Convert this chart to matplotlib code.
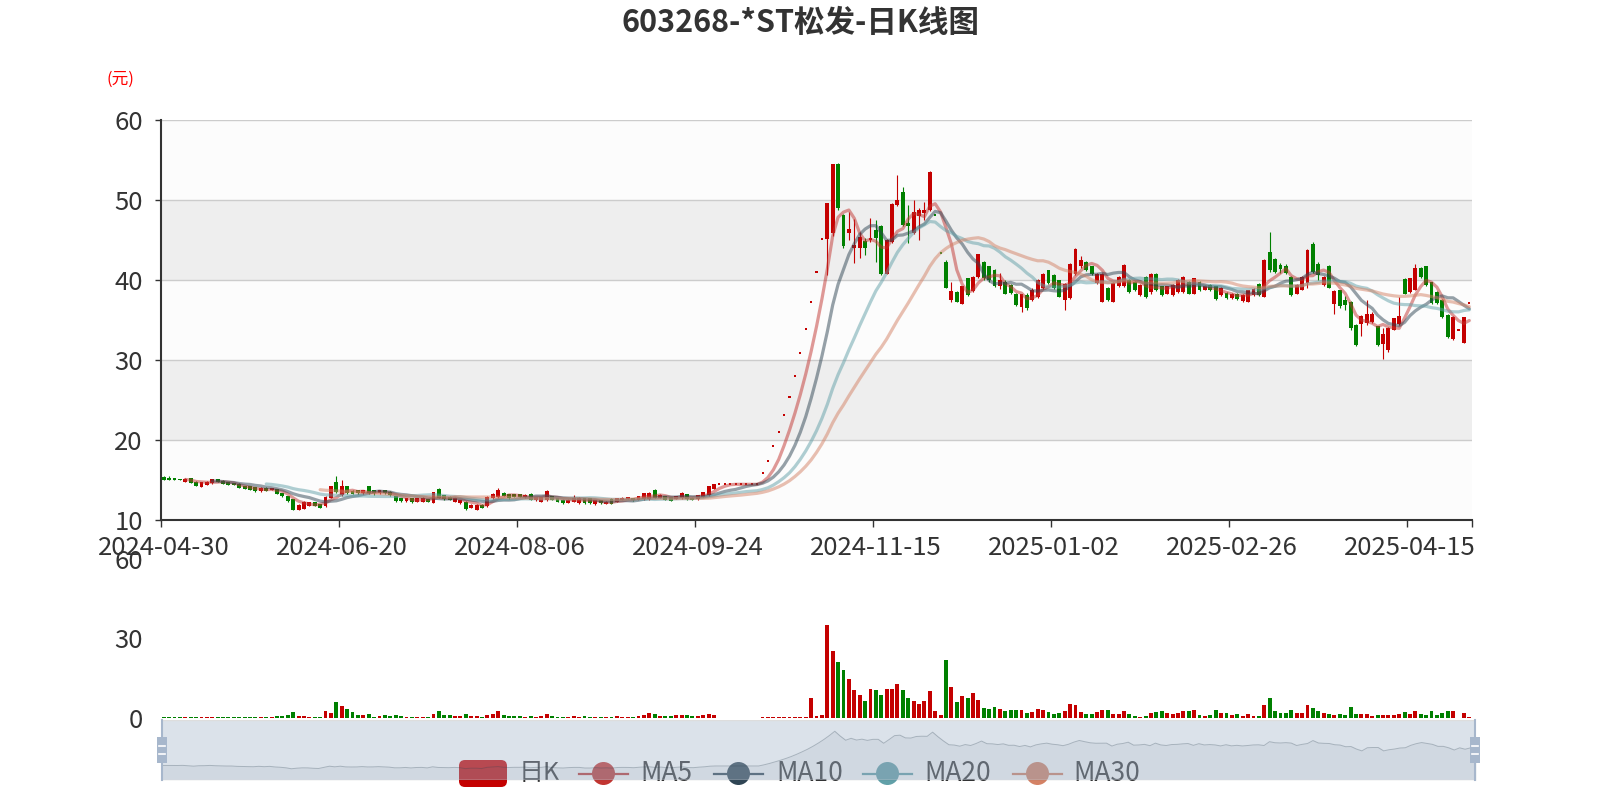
import matplotlib
matplotlib.use('Agg')
import matplotlib.pyplot as plt
import numpy as np
from matplotlib.patches import Rectangle, FancyBboxPatch, Circle

plt.rcParams['font.family'] = ['Noto Sans CJK SC', 'DejaVu Sans']

title = '603268-*ST松发-日K线图'
unit_name = '(元)'
tick_index = [0, 33, 66, 99, 132, 165, 198, 231]
tick_labels = ['2024-04-30', '2024-06-20', '2024-08-06', '2024-09-24',
               '2024-11-15', '2025-01-02', '2025-02-26', '2025-04-15']
legend_names = ['日K', 'MA5', 'MA10', 'MA20', 'MA30']
ma_days = [5, 10, 20, 30]

opens = [
    15.40, 15.20, 15.15, 15.10, 14.80, 15.20, 14.80, 14.15, 14.40, 14.60,
    15.10, 14.90, 14.75, 14.60, 14.55, 14.25, 14.20, 14.10, 13.60, 14.05,
    13.75, 13.85, 13.35, 12.95, 12.60, 11.30, 11.40, 11.75, 12.20, 11.95,
    11.70, 12.75, 14.80, 13.10, 14.20, 13.65, 13.70, 13.35, 14.20, 13.70,
    13.35, 13.70, 13.55, 12.95, 12.75, 12.35, 12.70, 12.30, 12.25, 12.60,
    12.15, 13.90, 13.10, 12.90, 12.30, 12.10, 12.30, 11.50, 11.30, 11.90,
    11.70, 12.70, 12.85, 13.40, 13.25, 13.20, 13.20, 12.85, 13.30, 12.45,
    12.30, 12.45, 13.00, 12.70, 12.55, 12.15, 12.30, 12.10, 12.70, 12.70,
    11.95, 12.50, 12.00, 12.65, 12.25, 12.50, 12.70, 12.75, 12.50, 12.60,
    12.60, 13.75, 12.75, 13.00, 12.85, 12.65, 12.70, 13.25, 12.80, 12.60,
    12.90, 13.10, 13.90, 14.46, 14.46, 14.46, 14.46, 14.46, 14.46, 14.46,
    14.46, 15.83, 17.40, 19.20, 21.04, 23.13, 25.40, 28.00, 30.83, 33.83,
    37.25, 41.00, 45.08, 45.08, 45.90, 54.50, 48.10, 45.90, 44.00, 44.00,
    44.90, 45.00, 46.25, 46.75, 40.80, 44.80, 49.40, 51.00, 47.10, 45.90,
    48.00, 48.40, 48.70, 48.15, 43.34, 42.30, 37.50, 38.50, 37.00, 40.20,
    38.60, 40.40, 42.30, 41.70, 41.25, 39.20, 39.80, 39.40, 38.30, 36.60,
    38.10, 37.50, 37.90, 39.00, 41.20, 40.60, 40.00, 37.50, 37.70, 40.80,
    41.70, 42.30, 41.70, 39.60, 37.30, 39.00, 37.30, 39.20, 39.20, 40.00,
    39.80, 38.10, 40.40, 38.50, 40.80, 39.25, 38.30, 38.10, 38.50, 38.50,
    39.80, 38.30, 39.80, 38.80, 39.40, 39.20, 38.10, 38.40, 37.70, 38.30,
    37.40, 37.30, 38.10, 39.50, 37.90, 43.50, 42.60, 41.90, 41.70, 40.40,
    38.30, 38.80, 39.60, 44.50, 42.00, 39.40, 41.70, 37.00, 38.70, 37.50,
    37.30, 34.40, 34.50, 34.60, 34.80, 34.20, 32.00, 31.20, 33.75, 34.50,
    40.10, 38.50, 38.75, 41.50, 41.70, 39.70, 38.50, 37.50, 35.60, 32.60,
    33.70, 32.10, 37.17]

closes = [
    15.05, 15.10, 15.05, 15.00, 15.15, 14.65, 14.25, 14.75, 14.80, 15.10,
    14.75, 14.55, 14.40, 14.40, 14.00, 13.90, 13.80, 13.60, 14.05, 13.65,
    14.00, 13.30, 12.95, 12.35, 11.25, 11.90, 12.30, 12.25, 11.80, 11.55,
    12.90, 14.20, 13.50, 14.20, 13.40, 13.30, 13.35, 13.75, 13.35, 13.40,
    13.70, 13.35, 13.10, 12.35, 12.35, 12.75, 12.20, 12.70, 12.80, 12.25,
    13.50, 12.75, 12.60, 12.50, 12.80, 12.50, 11.40, 11.90, 11.90, 11.50,
    12.90, 13.30, 13.75, 13.00, 12.70, 12.90, 12.90, 13.15, 12.50, 12.85,
    12.85, 13.65, 12.50, 12.30, 12.10, 12.55, 12.80, 12.80, 12.10, 12.10,
    12.50, 12.10, 12.30, 12.00, 12.70, 12.80, 12.75, 12.45, 13.00, 13.35,
    13.40, 12.75, 13.15, 12.50, 12.40, 13.00, 13.40, 12.60, 12.50, 13.10,
    13.50, 14.20, 14.46, 14.46, 14.46, 14.46, 14.46, 14.46, 14.46, 14.46,
    14.46, 15.83, 17.40, 19.20, 21.04, 23.13, 25.40, 28.00, 30.83, 33.83,
    37.25, 41.00, 45.08, 49.59, 54.55, 49.00, 44.20, 46.40, 44.40, 45.40,
    44.00, 45.20, 45.20, 40.70, 45.00, 49.50, 50.00, 46.90, 46.70, 48.50,
    48.80, 48.70, 53.50, 48.15, 43.34, 39.00, 38.60, 37.30, 39.20, 38.10,
    40.40, 43.20, 40.20, 40.00, 39.20, 40.00, 38.30, 38.40, 36.90, 38.20,
    36.50, 38.80, 40.00, 40.80, 39.60, 39.00, 37.90, 39.50, 42.00, 43.90,
    42.50, 41.25, 40.70, 40.80, 40.80, 37.50, 39.60, 40.40, 41.90, 38.50,
    38.75, 39.40, 37.90, 40.80, 38.75, 38.10, 39.20, 39.40, 40.00, 40.40,
    38.30, 40.20, 38.75, 39.20, 38.75, 37.60, 39.00, 37.70, 38.30, 37.60,
    38.10, 38.75, 38.90, 38.10, 42.50, 41.30, 41.00, 41.40, 40.90, 38.10,
    39.40, 40.40, 43.80, 41.00, 40.60, 40.40, 39.00, 38.60, 36.70, 36.90,
    34.00, 31.90, 35.50, 35.80, 35.80, 31.90, 33.20, 34.00, 35.20, 35.50,
    38.30, 40.20, 41.50, 40.40, 39.40, 37.10, 37.10, 35.40, 32.90, 35.40,
    33.80, 35.40, 37.17]

lows = [
    14.95, 15.00, 14.95, 14.95, 14.75, 14.60, 14.20, 14.10, 14.35, 14.55,
    14.70, 14.50, 14.35, 14.35, 13.95, 13.85, 13.75, 13.55, 13.55, 13.60,
    13.70, 13.25, 12.90, 12.30, 11.20, 11.25, 11.35, 11.70, 11.75, 11.50,
    11.65, 12.70, 13.40, 13.00, 13.30, 13.20, 13.25, 13.30, 13.30, 13.10,
    13.30, 13.30, 13.05, 12.30, 12.30, 12.30, 12.15, 12.25, 12.20, 12.20,
    12.10, 12.70, 12.55, 12.45, 12.25, 12.05, 11.30, 11.45, 11.25, 11.45,
    11.65, 12.65, 12.80, 12.95, 12.65, 12.85, 12.85, 12.80, 12.45, 12.40,
    12.25, 12.40, 12.45, 12.25, 12.05, 12.10, 12.25, 12.05, 12.05, 12.05,
    11.90, 12.05, 11.95, 11.95, 12.20, 12.45, 12.65, 12.40, 12.45, 12.55,
    12.55, 12.70, 12.70, 12.45, 12.35, 12.60, 12.65, 12.55, 12.45, 12.55,
    12.85, 13.05, 13.85, 14.46, 14.46, 14.46, 14.46, 14.46, 14.46, 14.46,
    14.46, 15.83, 17.40, 19.20, 21.04, 23.13, 25.40, 28.00, 30.83, 33.83,
    37.25, 41.00, 45.08, 40.57, 45.50, 48.80, 44.00, 45.00, 42.10, 42.80,
    43.10, 44.70, 42.30, 40.60, 40.70, 44.60, 49.20, 46.80, 44.60, 45.80,
    45.00, 47.50, 48.60, 48.15, 43.34, 39.00, 37.30, 37.20, 37.00, 38.00,
    38.50, 40.30, 40.00, 39.80, 39.10, 38.90, 38.20, 38.30, 36.80, 36.00,
    36.30, 37.40, 37.70, 38.90, 39.50, 38.90, 37.90, 36.25, 37.60, 40.60,
    41.50, 41.10, 40.60, 39.50, 37.30, 37.40, 37.20, 39.10, 39.10, 38.40,
    38.60, 38.00, 37.80, 38.20, 38.60, 38.00, 38.20, 38.00, 38.40, 38.40,
    38.20, 38.20, 38.60, 38.70, 38.60, 37.50, 38.00, 37.60, 37.60, 37.50,
    37.30, 37.20, 38.00, 38.00, 37.90, 41.00, 40.90, 40.90, 40.70, 38.00,
    38.20, 38.70, 39.00, 40.90, 40.00, 39.30, 39.00, 35.80, 36.50, 36.30,
    33.80, 31.70, 33.00, 34.40, 34.60, 31.80, 30.10, 31.00, 33.70, 34.40,
    38.20, 38.40, 38.70, 40.30, 39.30, 37.00, 37.00, 35.30, 32.80, 32.50,
    33.70, 32.10, 37.17]

highs = [
    15.45, 15.50, 15.25, 15.15, 15.20, 15.25, 14.85, 14.80, 14.85, 15.15,
    15.15, 14.95, 14.80, 14.65, 14.60, 14.30, 14.25, 14.15, 14.10, 14.10,
    14.05, 13.90, 13.40, 13.00, 12.65, 11.95, 12.35, 12.30, 12.30, 12.00,
    12.95, 14.25, 15.50, 15.00, 14.30, 13.75, 13.75, 13.80, 14.30, 13.75,
    13.80, 13.75, 13.60, 13.00, 12.80, 12.80, 12.75, 12.80, 12.85, 12.65,
    13.55, 14.00, 13.15, 12.95, 12.85, 12.55, 12.35, 11.95, 11.95, 11.95,
    12.95, 13.35, 14.00, 13.45, 13.30, 13.25, 13.25, 13.20, 13.40, 12.90,
    12.90, 13.75, 13.05, 12.75, 12.60, 12.60, 13.15, 12.85, 12.75, 12.75,
    12.55, 12.55, 12.35, 12.70, 12.75, 12.85, 12.80, 12.80, 13.05, 13.40,
    13.45, 13.85, 13.20, 13.05, 12.90, 13.05, 13.45, 13.30, 12.85, 13.15,
    13.55, 14.25, 14.50, 14.46, 14.46, 14.46, 14.46, 14.46, 14.46, 14.46,
    14.46, 15.83, 17.40, 19.20, 21.04, 23.13, 25.40, 28.00, 30.83, 33.83,
    37.25, 41.00, 45.08, 49.59, 54.55, 54.60, 48.30, 48.50, 47.60, 46.00,
    45.20, 47.80, 47.50, 46.90, 45.10, 49.60, 53.10, 51.60, 49.40, 50.00,
    49.00, 49.80, 53.60, 48.15, 43.34, 42.50, 39.70, 38.60, 39.30, 40.30,
    40.50, 43.30, 42.40, 41.80, 41.40, 40.90, 40.00, 39.50, 38.40, 38.30,
    38.40, 39.00, 40.10, 40.90, 41.30, 40.70, 40.00, 39.60, 42.10, 44.00,
    43.00, 42.40, 41.80, 40.90, 40.90, 39.10, 39.70, 40.50, 42.00, 40.10,
    39.90, 39.50, 40.50, 40.90, 40.90, 39.30, 39.30, 39.50, 40.10, 40.50,
    39.90, 40.30, 39.90, 39.40, 39.50, 39.30, 39.10, 38.50, 38.40, 38.40,
    38.20, 38.80, 39.00, 39.60, 42.60, 46.00, 42.80, 42.10, 42.00, 40.50,
    39.50, 40.50, 43.90, 44.80, 42.30, 40.50, 41.90, 38.70, 38.80, 38.00,
    37.40, 34.50, 35.60, 37.50, 36.00, 34.30, 34.00, 34.10, 35.30, 37.90,
    40.20, 40.30, 42.00, 41.60, 41.80, 39.80, 38.60, 37.60, 35.70, 35.50,
    33.80, 35.40, 37.17]

volumes = [
    0.4, 0.3, 0.3, 0.3, 0.4, 0.4, 0.5, 0.4, 0.3, 0.4,
    0.4, 0.3, 0.3, 0.3, 0.4, 0.4, 0.3, 0.4, 0.3, 0.4,
    0.5, 0.6, 0.9, 1.1, 2.2, 0.9, 0.6, 0.5, 0.4, 0.4,
    2.5, 1.9, 6.1, 4.7, 3.4, 2.2, 1.3, 1.0, 1.5, 0.4,
    0.6, 1.1, 0.9, 1.3, 0.6, 0.4, 0.5, 0.5, 0.4, 0.5,
    1.4, 2.5, 1.2, 1.0, 0.9, 0.7, 1.4, 0.8, 0.6, 0.5,
    1.2, 1.5, 2.5, 1.1, 0.8, 0.6, 0.6, 0.5, 0.9, 0.5,
    0.6, 1.4, 0.8, 0.5, 0.4, 0.4, 0.6, 0.5, 0.6, 0.5,
    0.5, 0.4, 0.4, 0.5, 0.6, 0.5, 0.4, 0.4, 0.7, 1.0,
    1.7, 1.5, 0.9, 0.9, 0.8, 1.3, 1.2, 1.0, 0.7, 0.9,
    1.3, 1.5, 1.1, 0.0, 0.0, 0.0, 0.0, 0.0, 0.0, 0.0,
    0.0, 0.3, 0.3, 0.3, 0.3, 0.3, 0.3, 0.3, 0.4, 0.5,
    7.7, 0.8, 1.0, 35.0, 25.2, 21.3, 18.1, 14.7, 10.6, 8.6,
    6.6, 10.9, 10.6, 8.8, 11.1, 11.1, 12.7, 10.7, 7.5, 6.4,
    5.2, 6.3, 10.3, 2.6, 1.0, 22.0, 11.7, 6.0, 8.3, 7.5,
    9.6, 6.8, 3.9, 3.5, 4.2, 3.5, 2.8, 3.1, 3.0, 3.0,
    2.0, 2.3, 3.5, 3.0, 2.3, 1.5, 2.0, 2.5, 5.2, 4.8,
    2.3, 1.5, 1.5, 2.3, 3.1, 3.0, 1.5, 1.5, 2.5, 1.4,
    0.9, 0.5, 0.8, 2.0, 2.3, 2.5, 1.8, 1.5, 1.9, 2.6,
    2.6, 3.0, 1.3, 0.8, 1.1, 3.0, 2.0, 1.9, 1.0, 1.4,
    0.8, 1.6, 0.9, 0.9, 4.8, 7.5, 2.8, 1.9, 1.9, 3.0,
    1.8, 2.0, 4.8, 3.9, 2.5, 1.8, 1.6, 1.3, 1.6, 1.1,
    4.0, 1.6, 1.6, 1.6, 0.9, 1.3, 1.3, 1.0, 1.0, 1.6,
    2.2, 1.6, 2.7, 1.6, 1.2, 2.5, 1.2, 2.0, 2.8, 2.5,
    0.1, 1.9, 0.3]

RED = '#c40000'
GREEN = '#008000'
MA_COLORS = ['#c23531', '#2f4554', '#61a0a8', '#d48265']
TXT = '#333333'
W, H = 1600, 800


def box(l, t, r, b):
    # pixel box (from top-left) -> figure fraction
    return [l / W, 1 - b / H, (r - l) / W, (b - t) / H]


o = np.array(opens)
c = np.array(closes)
lo = np.array(lows)
hi = np.array(highs)
v = np.array(volumes)
idx = np.arange(len(c))
prev = np.r_[c[0], c[:-1]]
up = (c > o) | ((c == o) & (c >= prev))
candle_col = np.where(up, RED, GREEN)
vol_col = np.where(c >= o, RED, GREEN)
flat = (c == o) & (hi == lo)

fig = plt.figure(figsize=(16, 8), dpi=100)

# ---- main kline axes
ax = fig.add_axes(box(161, 120, 1472, 520))
ax.set_xlim(-0.5, len(c) - 0.5)
ax.set_ylim(10, 60)
for k, y0 in enumerate(range(10, 60, 10)):
    ax.axhspan(y0, y0 + 10, color='#fcfcfc' if k % 2 == 0 else '#eeeeee', lw=0, zorder=0)
for y in range(20, 61, 10):
    ax.axhline(y, color='#cccccc', lw=1.0, zorder=0.5)

ax.vlines(idx[~flat], lo[~flat], hi[~flat], colors=candle_col[~flat], lw=0.8, zorder=2)
body = np.maximum(np.abs(c - o), 0.2)
bottom = np.minimum(o, c) - (body - np.abs(c - o)) / 2
ax.bar(idx[~flat], body[~flat], bottom=bottom[~flat], width=0.72,
       color=candle_col[~flat], lw=0, zorder=3)
# one-price days (suspension / limit boards) show as small dots
ax.bar(idx[flat], 0.26, bottom=c[flat] - 0.13, width=0.38,
       color=candle_col[flat], lw=0, zorder=3)

for n, col in zip(ma_days, MA_COLORS):
    ma = np.convolve(c, np.ones(n) / n, mode='valid')
    ax.plot(idx[n - 1:], ma, color=col, alpha=0.5, lw=2.3, zorder=4,
            solid_capstyle='round', solid_joinstyle='round')

for s in ['top', 'right']:
    ax.spines[s].set_visible(False)
for s in ['left', 'bottom']:
    ax.spines[s].set_color(TXT)
    ax.spines[s].set_linewidth(1.5)
ax.set_yticks(range(10, 61, 10))
ax.tick_params(axis='y', length=4, width=1, color=TXT, labelsize=18.5, labelcolor=TXT, pad=9)
ax.set_xticks(list(np.array(tick_index) - 0.5) + [len(c) - 0.5])
ax.set_xticklabels([])
ax.set_xticks(tick_index, minor=True)
ax.set_xticklabels(tick_labels, minor=True)
ax.tick_params(axis='x', which='major', length=5, width=1, color=TXT)
ax.tick_params(axis='x', which='minor', length=0, labelsize=18.5, labelcolor=TXT, pad=10.5)

# ---- volume axes
axv = fig.add_axes(box(161, 559, 1472, 718))
axv.set_xlim(-0.5, len(c) - 0.5)
axv.set_ylim(0, 60)
axv.bar(idx, v, width=0.72, color=vol_col, lw=0)
for s in axv.spines.values():
    s.set_visible(False)
axv.set_xticks([])
axv.set_yticks([0, 30, 60])
axv.tick_params(axis='y', length=0, labelsize=18.5, labelcolor=TXT, pad=13)
axv.patch.set_alpha(0)

# ---- legend (sits under the slider)
axl = fig.add_axes([0, 0, 1, 1], zorder=0.5)
axl.set_xlim(0, W)
axl.set_ylim(H, 0)
axl.axis('off')
ly = 773.5
axl.add_patch(FancyBboxPatch((459, ly - 13.5), 48, 27, boxstyle='round,pad=0,rounding_size=6',
                             color=RED, lw=0))
axl.text(519, ly, legend_names[0], ha='left', va='center', fontsize=18, color=TXT)
icon_x = [579, 714, 863, 1013]
text_x = [640, 776, 924, 1073]
for name, col, ix, tx in zip(legend_names[1:], MA_COLORS, icon_x, text_x):
    axl.plot([ix, ix + 49], [ly, ly], color=col, lw=1.6)
    axl.add_patch(Circle((ix + 24.5, ly), 11.5, color=col, lw=0))
    axl.text(tx, ly, name, ha='left', va='center', fontsize=19, color=TXT)

# ---- data zoom slider
axs = fig.add_axes(box(161, 720, 1476, 780), zorder=2)
axs.patch.set_alpha(0)
rng = c.max() - c.min()
ylo, yhi = c.min() - 0.3 * rng, c.max() + 0.3 * rng
axs.set_xlim(0, len(c) - 1)
axs.set_ylim(ylo, yhi)
axs.fill_between(idx, ylo, c, color='#2f4554', alpha=0.09, lw=0)
axs.plot(idx, c, color='#2f4554', alpha=0.3, lw=0.7)
axs.add_patch(Rectangle((0, 0), 1, 1, transform=axs.transAxes,
                        facecolor=(167 / 255, 183 / 255, 204 / 255, 0.4), edgecolor='#dddddd', lw=1))
axs.axis('off')

# slider handles
axh = fig.add_axes([0, 0, 1, 1], zorder=3)
axh.set_xlim(0, W)
axh.set_ylim(H, 0)
axh.axis('off')
for xh in (162, 1475):
    axh.plot([xh, xh], [720, 780], color='#a7b7cc', lw=1.5)
    axh.add_patch(Rectangle((xh - 5, 737), 10, 26, color='#a7b7cc', lw=0))
    for yy in (746, 754):
        axh.plot([xh - 3, xh + 3], [yy, yy], color='white', lw=1.2)

fig.text(800 / W, 1 - 23 / H, title, ha='center', va='center', fontsize=22,
         fontweight='bold', color=TXT)
fig.text(120 / W, 1 - 79 / H, unit_name, ha='center', va='center', fontsize=12, color='red')

fig.savefig('out.png', dpi=100)
